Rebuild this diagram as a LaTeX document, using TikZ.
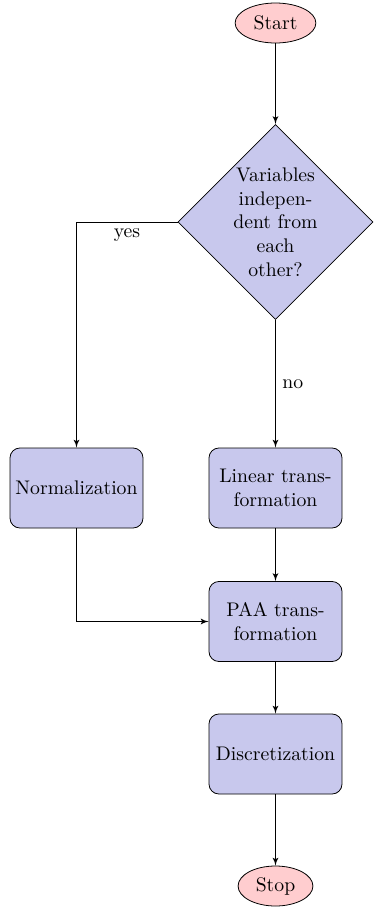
\documentclass[tikz,border=0pt]{standalone}
\usetikzlibrary{shapes.geometric,arrows}
\definecolor{boxfill}{RGB}{200,200,237}
\definecolor{termfill}{RGB}{255,205,207}
\begin{document}
\begin{tikzpicture}[x=0.5076pt,y=-0.5076pt,
  startstop/.style={ellipse, draw, fill=termfill, inner sep=0pt, minimum height=20.3pt},
  block/.style={rectangle, draw, fill=boxfill, rounded corners=5pt,
    minimum width=67.5pt, minimum height=40.6pt, align=center, inner sep=0pt},
  decision/.style={diamond, draw, fill=boxfill, align=center, inner sep=-1pt,
    minimum width=99pt, minimum height=99pt},
  flow/.style={draw, -latex'}]
\useasboundingbox (0,0) rectangle (373,908);

% nodes
\node[startstop, minimum width=41pt] (start) at (275.5,23) {Start};
\node[decision] (indep) at (275.5,222) {Variables\\ indepen-\\ dent from\\ each\\ other?};
\node[block] (norm) at (76.5,488) {Normalization};
\node[block] (lin) at (275.5,488) {Linear trans-\\ formation};
\node[block] (paa) at (275.5,621.5) {PAA trans-\\ formation};
\node[block] (disc) at (275.5,754) {Discretization};
\node[startstop, minimum width=38pt] (stop) at (275.5,886) {Stop};

% connectors
\draw[flow] (start) -- (indep);
\draw[flow] (indep.west) -| node[pos=0.25, below] {yes} (norm.north);
\draw[flow] (indep.south) -- node[midway, right] {no} (lin.north);
\draw[flow] (lin) -- (paa);
\draw[flow] (norm.south) |- (paa.west);
\draw[flow] (paa) -- (disc);
\draw[flow] (disc) -- (stop);
\end{tikzpicture}
\end{document}
